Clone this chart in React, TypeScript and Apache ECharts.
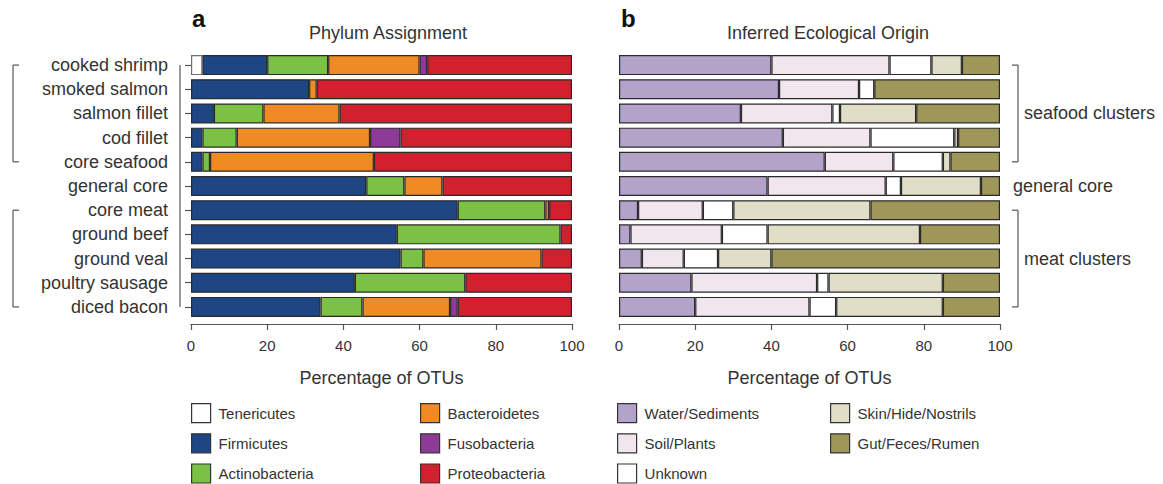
import React, { useEffect, useRef } from "react";
import * as echarts from "echarts";

const categories = ["cooked shrimp", "smoked salmon", "salmon fillet", "cod fillet", "core seafood", "general core", "core meat", "ground beef", "ground veal", "poultry sausage", "diced bacon"];

// Phylum assignment (% of OTUs)
const tenericutes = [3, 0, 0, 0, 0, 0, 0, 0, 0, 0, 0];
const firmicutes = [17, 31, 6, 3, 3, 46, 70, 54, 55, 43, 34];
const actinobacteria = [16, 0, 13, 9, 2, 10, 23, 43, 6, 29, 11];
const bacteroidetes = [24, 2, 20, 35, 43, 10, 1, 0, 31, 0, 23];
const fusobacteria = [2, 0, 0, 8, 0, 0, 0, 0, 0, 0, 2];
const proteobacteria = [38, 67, 61, 45, 52, 34, 6, 3, 8, 28, 30];

// Inferred ecological origin (% of OTUs)
const waterSediments = [40, 42, 32, 43, 54, 39, 5, 3, 6, 19, 20];
const soilPlants = [31, 21, 24, 23, 18, 31, 17, 24, 11, 33, 30];
const unknownOrigin = [11, 4, 2, 22, 13, 4, 8, 12, 9, 3, 7];
const skinHide = [8, 0, 20, 1, 2, 21, 36, 40, 14, 30, 28];
const gutFeces = [10, 33, 22, 11, 13, 5, 34, 21, 60, 15, 15];

const xTicks = [0, 20, 40, 60, 80, 100];

const FONT = "'Liberation Sans', Arial, Helvetica, sans-serif";
const TXT = "#333";

const leftSeries = [
  { name: "Tenericutes", data: tenericutes, color: "#ffffff", border: "#6e6e6e" },
  { name: "Firmicutes", data: firmicutes, color: "#1e4584", border: "#2a2a2a" },
  { name: "Actinobacteria", data: actinobacteria, color: "#7bc143", border: "#2a2a2a" },
  { name: "Bacteroidetes", data: bacteroidetes, color: "#ef8a25", border: "#2a2a2a" },
  { name: "Fusobacteria", data: fusobacteria, color: "#8d3b96", border: "#2a2a2a" },
  { name: "Proteobacteria", data: proteobacteria, color: "#d3202e", border: "#2a2a2a" },
];
const rightSeries = [
  { name: "Water/Sediments", data: waterSediments, color: "#b3a3cb", border: "#2a2a2a" },
  { name: "Soil/Plants", data: soilPlants, color: "#f1e5ee", border: "#2a2a2a" },
  { name: "Unknown", data: unknownOrigin, color: "#ffffff", border: "#2a2a2a" },
  { name: "Skin/Hide/Nostrils", data: skinHide, color: "#e1dec7", border: "#2a2a2a" },
  { name: "Gut/Feces/Rumen", data: gutFeces, color: "#9f9659", border: "#2a2a2a" },
];

export default function App() {
  const ref = useRef<HTMLDivElement>(null);
  useEffect(() => {
    document.body.style.margin = "0";
    const chart = echarts.init(ref.current!, null, { renderer: "svg" });

    const mkX = (gi: number) => ({
      type: "value",
      gridIndex: gi,
      min: xTicks[0],
      max: xTicks[xTicks.length - 1],
      interval: 20,
      offset: 5,
      splitLine: { show: false },
      axisLine: { show: true, lineStyle: { color: "#555", width: 1.2 } },
      axisTick: { show: true, length: 6, lineStyle: { color: "#555", width: 1.2 } },
      axisLabel: { color: TXT, fontSize: 15, fontFamily: FONT, margin: 14 },
      name: "Percentage of OTUs",
      nameLocation: "middle",
      nameGap: 45,
      nameTextStyle: { color: TXT, fontSize: 18, fontFamily: FONT },
    });

    const mkSeries = (list: any[], gi: number, stack: string) =>
      list.map((s) => ({
        type: "bar",
        name: s.name,
        stack,
        xAxisIndex: gi,
        yAxisIndex: gi,
        barWidth: 20,
        data: s.data.map((v: number) => (v === 0 ? "-" : v)),
        itemStyle: { color: s.color, borderColor: s.border, borderWidth: 1.2 },
        emphasis: { disabled: true },
      }));

    const legendBase = {
      orient: "vertical",
      icon: "rect",
      itemWidth: 19,
      itemHeight: 19,
      itemGap: 10,
      padding: 0,
      height: 120,
      selectedMode: false,
      textStyle: { color: TXT, fontSize: 15, fontFamily: FONT, padding: [0, 0, 0, 3] },
      itemStyle: { borderColor: "#333", borderWidth: 1.2 },
    };

    chart.setOption({
      animation: false,
      backgroundColor: "#ffffff",
      textStyle: { fontFamily: FONT },
      title: [
        { text: "a", left: 187, top: 1, textStyle: { fontSize: 24, fontWeight: "bold", color: "#111", fontFamily: FONT } },
        { text: "b", left: 616, top: 1, textStyle: { fontSize: 24, fontWeight: "bold", color: "#111", fontFamily: FONT } },
        { text: "Phylum Assignment", left: 383, top: 19, textAlign: "center", textStyle: { fontSize: 18, fontWeight: "normal", color: TXT, fontFamily: FONT } },
        { text: "Inferred Ecological Origin", left: 823, top: 19, textAlign: "center", textStyle: { fontSize: 18, fontWeight: "normal", color: TXT, fontFamily: FONT } },
      ],
      legend: [
        { ...legendBase, left: 191, top: 403, data: ["Tenericutes", "Firmicutes", "Actinobacteria"] },
        { ...legendBase, left: 420, top: 403, data: ["Bacteroidetes", "Fusobacteria", "Proteobacteria"] },
        { ...legendBase, left: 617, top: 403, data: ["Water/Sediments", "Soil/Plants", "Unknown"] },
        { ...legendBase, left: 830, top: 403, data: ["Skin/Hide/Nostrils", "Gut/Feces/Rumen"] },
      ],
      grid: [
        { left: 191, width: 381, top: 53, height: 266, containLabel: false },
        { left: 619, width: 381, top: 53, height: 266, containLabel: false },
      ],
      xAxis: [mkX(0), mkX(1)],
      yAxis: [
        {
          type: "category",
          gridIndex: 0,
          data: categories,
          inverse: true,
          offset: 11,
          axisLine: { show: false },
          axisTick: { show: true, alignWithLabel: true, length: 6, lineStyle: { color: "#555", width: 1.2 } },
          axisLabel: { color: TXT, fontSize: 18, fontFamily: FONT, margin: 12 },
        },
        {
          type: "category",
          gridIndex: 1,
          data: categories,
          inverse: true,
          axisLine: { show: false },
          axisTick: { show: false },
          axisLabel: { show: false },
        },
      ],
      series: [...mkSeries(leftSeries, 0, "phylum"), ...mkSeries(rightSeries, 1, "origin")],
    });

    // decorations positioned from the category axis
    const yc = (i: number) => chart.convertToPixel({ yAxisIndex: 0 }, i) as number;
    const y0 = yc(0), y4 = yc(4), y5 = yc(5), y6 = yc(6), y10 = yc(10);
    const lineStyle = { stroke: "#555", lineWidth: 1.2 };
    const axisX = 180;
    const lb = 13, rb = 1018, tk = 6;
    const bracket = (x: number, ya: number, yb: number, dir: number) => [
      { type: "line", shape: { x1: x, y1: ya, x2: x, y2: yb }, style: lineStyle },
      { type: "line", shape: { x1: x, y1: ya, x2: x + dir * tk, y2: ya }, style: lineStyle },
      { type: "line", shape: { x1: x, y1: yb, x2: x + dir * tk, y2: yb }, style: lineStyle },
    ];
    chart.setOption({
      graphic: [
        { type: "line", shape: { x1: axisX, y1: y0, x2: axisX, y2: y10 }, style: lineStyle },
        ...bracket(lb, y0, y4, 1),
        ...bracket(lb, y6, y10, 1),
        ...bracket(rb, y0, y4, -1),
        ...bracket(rb, y6, y10, -1),
        { type: "text", x: 1024, y: (y0 + y4) / 2, style: { text: "seafood clusters", fill: TXT, font: `18px ${FONT}`, verticalAlign: "middle" } },
        { type: "text", x: 1013, y: y5, style: { text: "general core", fill: TXT, font: `18px ${FONT}`, verticalAlign: "middle" } },
        { type: "text", x: 1024, y: (y6 + y10) / 2, style: { text: "meat clusters", fill: TXT, font: `18px ${FONT}`, verticalAlign: "middle" } },
      ],
    });

    return () => chart.dispose();
  }, []);
  return <div ref={ref} style={{ width: 1163, height: 484 }} />;
}
